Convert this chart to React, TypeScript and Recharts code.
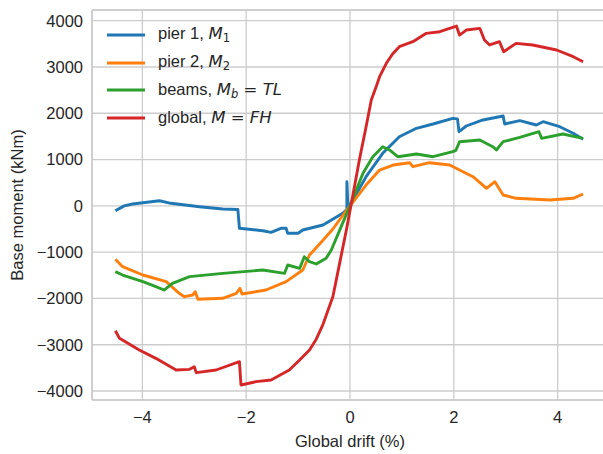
import { LineChart, Line, XAxis, YAxis, CartesianGrid, ReferenceLine, Legend } from 'recharts';

const xTicks = [-4, -2, 0, 2, 4];
const yTicks = [-4000, -3000, -2000, -1000, 0, 1000, 2000, 3000, 4000];

// pier 1
const pier1Drift = [-4.52, -4.35, -4.19, -3.67, -3.45, -2.9, -2.45, -2.16, -2.13, -1.68, -1.52, -1.33, -1.23, -1.2, -1.0, -0.91, -0.52, -0.14, -0.06, -0.06, -0.04, 0.0, 0.31, 0.63, 0.95, 1.28, 1.6, 1.98, 2.07, 2.1, 2.24, 2.56, 2.95, 2.98, 3.27, 3.59, 3.72, 4.04, 4.3, 4.49];
const pier1Moment = [-105, 0, 40, 111, 55, -18, -68, -80, -485, -537, -572, -485, -485, -593, -593, -522, -414, -161, -80, 520, 0, 18, 630, 1135, 1494, 1675, 1768, 1891, 1880, 1602, 1725, 1855, 1941, 1768, 1840, 1747, 1818, 1710, 1567, 1437];

// pier 2
const pier2Drift = [-4.52, -4.38, -3.99, -3.54, -3.29, -3.19, -3.03, -2.98, -2.93, -2.45, -2.19, -2.12, -2.08, -1.62, -1.23, -0.91, -0.78, -0.55, -0.33, -0.2, 0.0, 0.31, 0.57, 0.83, 1.15, 1.21, 1.53, 1.92, 2.11, 2.37, 2.63, 2.79, 2.95, 3.2, 3.85, 4.3, 4.49];
const pier2Moment = [-1155, -1314, -1494, -1638, -1889, -1962, -1926, -1854, -2019, -1997, -1889, -1781, -1904, -1818, -1638, -1386, -1062, -780, -500, -300, 0, 450, 774, 882, 932, 846, 932, 882, 774, 630, 379, 522, 234, 163, 126, 163, 256];

// beams
const beamsDrift = [-4.52, -4.38, -3.99, -3.74, -3.58, -3.42, -3.09, -2.45, -1.68, -1.26, -1.2, -0.97, -0.88, -0.78, -0.65, -0.46, -0.36, -0.17, 0.0, 0.25, 0.44, 0.63, 0.76, 0.92, 1.28, 1.6, 1.98, 2.04, 2.11, 2.5, 2.75, 2.82, 2.95, 3.27, 3.64, 3.69, 4.1, 4.49];
const beamsMoment = [-1422, -1494, -1638, -1746, -1818, -1674, -1530, -1458, -1386, -1458, -1278, -1350, -1098, -1206, -1256, -1134, -954, -450, 0, 703, 1062, 1278, 1207, 1062, 1120, 1062, 1170, 1200, 1386, 1423, 1278, 1207, 1386, 1480, 1602, 1459, 1552, 1459];

// global
const globalDrift = [-4.52, -4.44, -4.06, -3.74, -3.35, -3.09, -3.0, -2.96, -2.58, -2.13, -2.1, -1.81, -1.52, -1.17, -0.97, -0.78, -0.65, -0.52, -0.33, -0.2, -0.07, 0.05, 0.18, 0.31, 0.41, 0.5, 0.57, 0.7, 0.82, 0.95, 1.21, 1.47, 1.73, 2.05, 2.11, 2.24, 2.5, 2.59, 2.69, 2.88, 2.96, 3.2, 3.52, 3.98, 4.3, 4.49];
const globalMoment = [-2697, -2862, -3114, -3294, -3546, -3532, -3475, -3604, -3546, -3366, -3870, -3798, -3762, -3546, -3330, -3114, -2880, -2560, -1962, -1242, -522, 198, 990, 1710, 2287, 2560, 2790, 3080, 3280, 3438, 3546, 3727, 3762, 3885, 3690, 3798, 3835, 3583, 3475, 3546, 3330, 3511, 3475, 3367, 3222, 3114];

const toPoints = (drift: number[], moment: number[]) => drift.map((d, i) => ({ drift: d, moment: moment[i] }));

const TEXT = '#262626';
const GRID = '#cccccc';
const FONT = 16.5;
const math = { fontFamily: 'DejaVu Sans', fontStyle: 'italic' as const };
const sub = { fontFamily: 'DejaVu Sans', fontStyle: 'italic' as const, fontSize: '70%', verticalAlign: '-0.25em' };

const SERIES = [
  {
    key: 'pier1', color: '#1f77b4', data: toPoints(pier1Drift, pier1Moment),
    label: <>pier 1, <span style={math}>M</span><span style={{ ...sub, fontStyle: 'normal' }}>1</span></>,
  },
  {
    key: 'pier2', color: '#ff7f0e', data: toPoints(pier2Drift, pier2Moment),
    label: <>pier 2, <span style={math}>M</span><span style={{ ...sub, fontStyle: 'normal' }}>2</span></>,
  },
  {
    key: 'beams', color: '#2ca02c', data: toPoints(beamsDrift, beamsMoment),
    label: <>beams, <span style={math}>M</span><span style={sub}>b</span><span style={{ fontFamily: 'DejaVu Sans' }}> = </span><span style={math}>TL</span></>,
  },
  {
    key: 'global', color: '#d62728', data: toPoints(globalDrift, globalMoment),
    label: <>global, <span style={math}>M</span><span style={{ fontFamily: 'DejaVu Sans' }}> = </span><span style={math}>FH</span></>,
  },
];

const minus = (v: number) => String(v).replace('-', '\u2212');

function LegendBox() {
  return (
    <div style={{ fontFamily: 'Liberation Sans, Arial, sans-serif', fontSize: FONT, color: TEXT }}>
      {SERIES.map((s) => (
        <div key={s.key} style={{ display: 'flex', alignItems: 'center', height: 27.7, whiteSpace: 'nowrap' }}>
          <svg width={38} height={6} style={{ display: 'block' }}>
            <line x1={0} y1={3} x2={38} y2={3} stroke={s.color} strokeWidth={2.9} />
          </svg>
          <span style={{ marginLeft: 13 }}>{s.label}</span>
        </div>
      ))}
    </div>
  );
}

export default function App() {
  return (
    <div style={{ position: 'absolute', left: 0, top: 0, width: 603, height: 454, overflow: 'hidden', background: '#fff', fontFamily: 'Liberation Sans, Arial, sans-serif' }}>
      <LineChart width={620} height={454} margin={{ top: 10, right: 12, bottom: 0, left: 0 }}>
        <CartesianGrid stroke={GRID} strokeWidth={1.3} />
        <XAxis
          dataKey="drift"
          type="number"
          domain={[-4.97, 4.97]}
          ticks={xTicks}
          allowDataOverflow
          height={54}
          tickLine={false}
          tickSize={0}
          tickMargin={11}
          tickFormatter={minus}
          tick={{ fill: TEXT, fontSize: FONT }}
          axisLine={{ stroke: GRID, strokeWidth: 1.7 }}
          label={{ value: 'Global drift (%)', position: 'insideBottom', offset: 7, style: { fill: TEXT, fontSize: FONT } }}
        />
        <YAxis
          type="number"
          domain={[-4194, 4231]}
          ticks={yTicks}
          allowDataOverflow
          width={92}
          tickLine={false}
          tickSize={0}
          tickMargin={9}
          tickFormatter={minus}
          tick={{ fill: TEXT, fontSize: FONT }}
          axisLine={{ stroke: GRID, strokeWidth: 1.7 }}
          label={{ value: 'Base moment (kNm)', angle: -90, position: 'insideLeft', offset: 17, style: { fill: TEXT, fontSize: FONT, textAnchor: 'middle' } }}
        />
        <ReferenceLine y={4231} stroke={GRID} strokeWidth={1.7} />
        <Legend layout="vertical" align="center" verticalAlign="middle" content={<LegendBox />} wrapperStyle={{ top: 21, left: 107, width: 'auto' }} />
        {SERIES.map((s) => (
          <Line
            key={s.key}
            data={s.data}
            dataKey="moment"
            name={s.key}
            type="linear"
            dot={false}
            stroke={s.color}
            strokeWidth={2.9}
            strokeLinejoin="round"
            isAnimationActive={false}
          />
        ))}
      </LineChart>
    </div>
  );
}
